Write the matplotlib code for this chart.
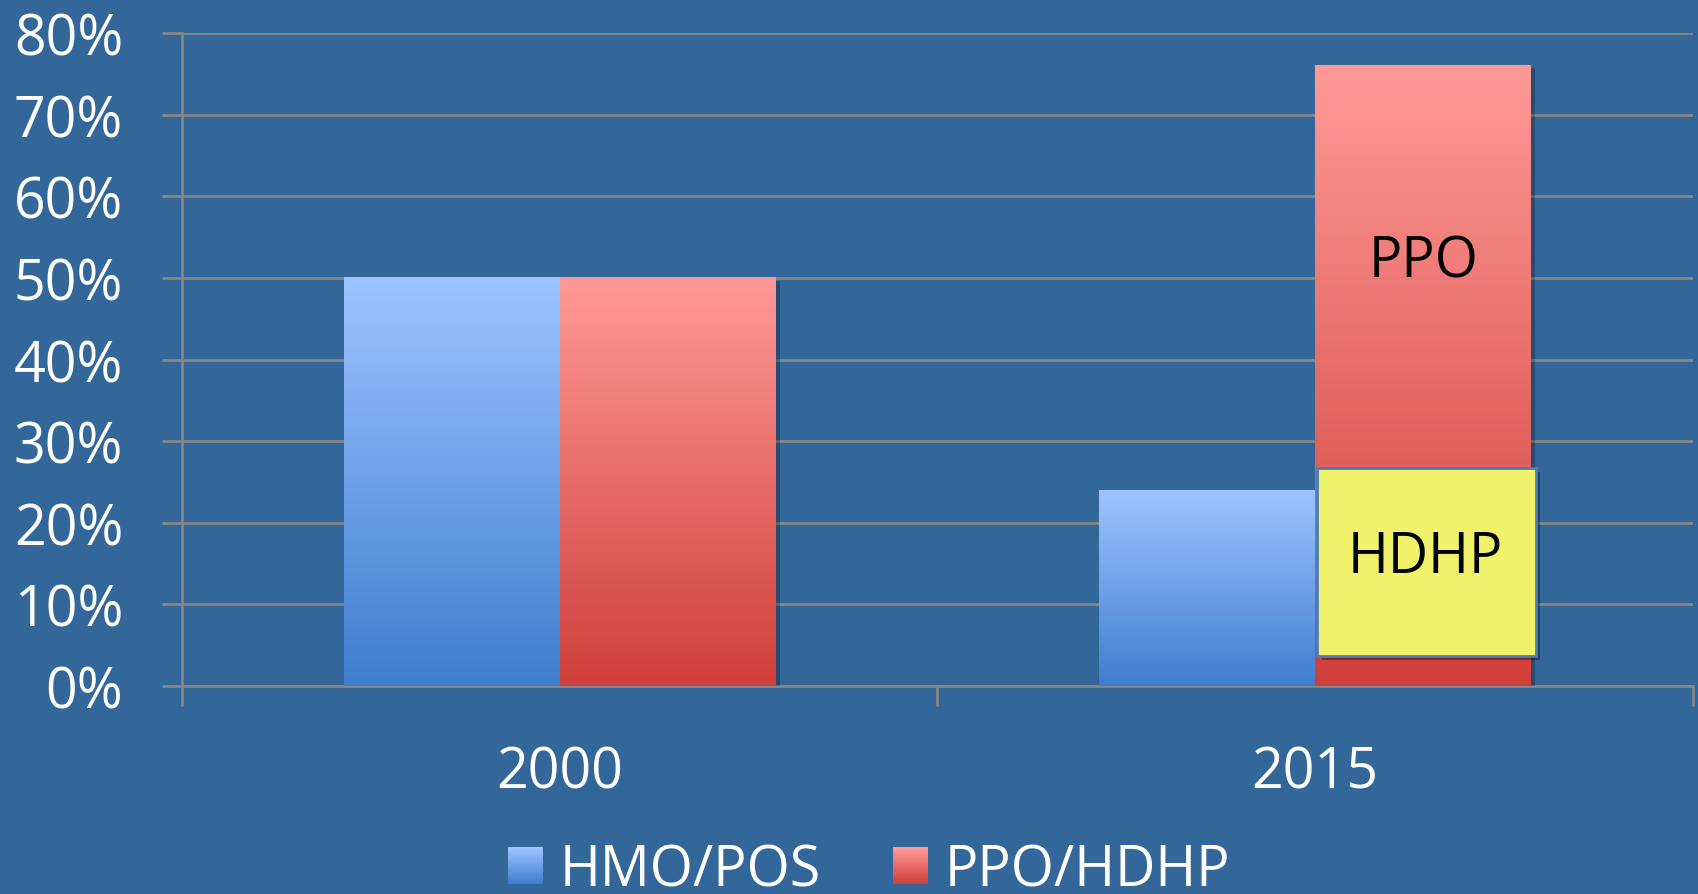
import numpy as np
import matplotlib.pyplot as plt
from matplotlib.patches import Rectangle
from matplotlib.legend_handler import HandlerBase
from matplotlib.colors import LinearSegmentedColormap
import matplotlib.patheffects as pe

# data (percent of covered workers)
years = ['2000', '2015']
hmo_pos = [50, 24]
ppo_hdhp = [50, 76]
series = ['HMO/POS', 'PPO/HDHP']
y_ticks = [0, 10, 20, 30, 40, 50, 60, 70, 80]
hdhp_range = [3.7, 26.7]   # callout box on the 2015 PPO/HDHP bar

BG = '#336699'
GRID = '#878787'
BLUE = ['#3F7ECF', '#9EC4FF']   # bottom, top
RED = ['#CF3F3A', '#FF9A97']

plt.rcParams['font.family'] = ['Open Sans', 'DejaVu Sans']

fig = plt.figure(figsize=(16.98, 8.95), dpi=100, facecolor=BG)
ax = fig.add_axes([0.1072, 0.2324, 0.8898, 0.7296])
ax.set_facecolor(BG)

x = np.arange(len(years))
w = 1 / 3.5
shadow = [pe.SimplePatchShadow(offset=(3, -2), shadow_rgbFace='black', alpha=0.25), pe.Normal()]
b1 = ax.bar(x - w / 2, hmo_pos, w, color=BLUE[0], zorder=3, path_effects=shadow)
b2 = ax.bar(x + w / 2, ppo_hdhp, w, color=RED[0], zorder=3, path_effects=shadow)

grad = np.linspace(0, 1, 256).reshape(-1, 1)


def fill(bars, cols):
    cmap = LinearSegmentedColormap.from_list('g', cols)
    for bar in bars:
        x0, y0 = bar.get_x(), bar.get_y()
        ax.imshow(grad, cmap=cmap, origin='lower', aspect='auto', zorder=3.5,
                  extent=[x0, x0 + bar.get_width(), y0, y0 + bar.get_height()])


fill(b1, BLUE)
fill(b2, RED)

ax.set_xlim(-0.5, 1.5)
ax.set_ylim(0, 80)

# HDHP callout
bx0 = x[1] + 0.003
box = Rectangle((bx0, hdhp_range[0]), w + 0.003, hdhp_range[1] - hdhp_range[0],
                facecolor='#F0F26A', edgecolor='#4A7EBB', lw=2, zorder=5,
                path_effects=[pe.SimplePatchShadow(offset=(3, -3), shadow_rgbFace='black', alpha=0.35), pe.Normal()])
ax.add_patch(box)
ax.text(bx0 + w / 2, sum(hdhp_range) / 2 + 0.5, 'HDHP', fontsize=40, color='black',
        ha='center', va='center', zorder=6)
ax.text(x[1] + w / 2, 52, 'PPO', fontsize=40, color='black', ha='center', va='center', zorder=6)

# axes styling
ax.set_axisbelow(True)
ax.yaxis.grid(True, color=GRID, lw=2)
for s in ['top', 'right']:
    ax.spines[s].set_visible(False)
for s in ['left', 'bottom']:
    ax.spines[s].set_color(GRID)
    ax.spines[s].set_linewidth(2)

ax.set_yticks(y_ticks)
ax.set_yticklabels([f'{v}%' for v in y_ticks])
ax.tick_params(axis='y', length=14.4, width=2, color=GRID, labelcolor='white',
               labelsize=40, pad=28)
ax.set_xticks(x)
ax.set_xticklabels(years)
ax.set_xticks([-0.5, 0.5, 1.5], minor=True)
ax.tick_params(axis='x', which='major', length=0, labelcolor='white', labelsize=40, pad=42)
ax.tick_params(axis='x', which='minor', length=14.4, width=2, color=GRID)


class GradHandler(HandlerBase):
    def __init__(self, cols):
        super().__init__()
        self.cols = cols

    def create_artists(self, legend, orig_handle, xdescent, ydescent, width, height, fontsize, trans):
        cmap = LinearSegmentedColormap.from_list('g', self.cols)
        n = 30
        arts = []
        for i in range(n):
            r = Rectangle((-xdescent, -ydescent + height * i / n), width, height / n * 1.05,
                          facecolor=cmap(i / (n - 1)), edgecolor='none', transform=trans)
            arts.append(r)
        return arts


h1 = Rectangle((0, 0), 1, 1)
h2 = Rectangle((0, 0), 1, 1)
fig.legend([h1, h2], series, loc='center', bbox_to_anchor=(0.512, 0.026), ncol=2,
           frameon=False, fontsize=40, labelcolor='white',
           handlelength=0.63, handleheight=0.63, handletextpad=0.3, columnspacing=1.3,
           handler_map={h1: GradHandler(BLUE), h2: GradHandler(RED)})

fig.savefig('out.png', dpi=100, facecolor=BG)
